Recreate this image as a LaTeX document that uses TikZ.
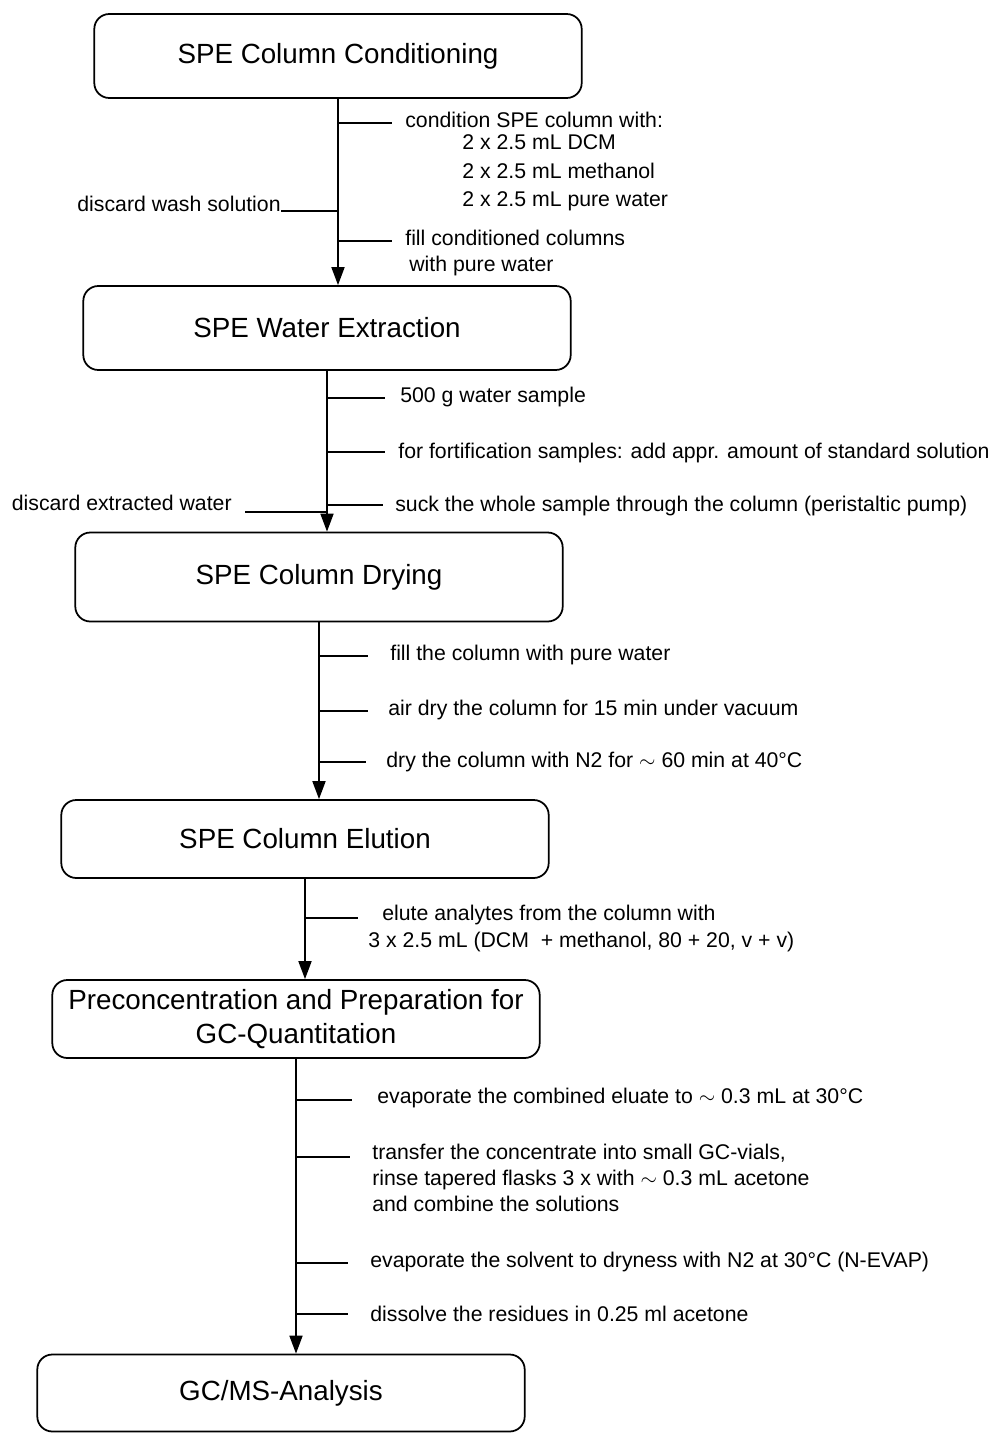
\documentclass[tikz,border=0pt]{standalone}
\usepackage{fontspec}
\setmainfont{Liberation Sans}
\usetikzlibrary{arrows.meta,positioning,calc}

\begin{document}
\begin{tikzpicture}[
  x=0.02cm,
  y=-0.02cm,
  font=\fontsize{12.1}{16}\selectfont,
  stage/.style={draw, line width=1pt, rounded corners=0.3cm, minimum width=9.75cm,
    minimum height=1.66cm, align=center, font=\fontsize{15.8}{19.5}\selectfont},
  flow/.style={line width=1pt, -{Triangle[length=0.36cm,width=0.26cm]}},
  tick/.style={line width=0.9pt},
  note/.style={anchor=west, inner sep=0pt, align=left}
]
  \useasboundingbox (0,0) rectangle (995,1433);

  % process stages
  \node[stage, minimum height=1.68cm] (cond) at (338,56) {SPE Column Conditioning};
  \node[stage, minimum height=1.68cm] (water) at (327,328) {SPE Water Extraction};
  \node[stage, minimum height=1.78cm] (dry) at (319,577) {SPE Column Drying};
  \node[stage, minimum height=1.56cm] (elut) at (305,839) {SPE Column Elution};
  \node[stage, minimum height=1.56cm] (prep) at (296,1019) {Preconcentration and Preparation for\\GC-Quantitation};
  \node[stage, minimum height=1.54cm] (gcms) at (281,1393) {GC/MS-Analysis};

  \draw[flow] (cond.south) -- (cond.south |- water.north);
  \draw[flow] (water.south) -- (water.south |- dry.north);
  \draw[flow] (dry.south) -- (dry.south |- elut.north);
  \draw[flow] (elut.south) -- (elut.south |- prep.north);
  \draw[flow] (prep.south) -- (prep.south |- gcms.north);

  % conditioning
  \node[note] (c1) at (405,120) {condition SPE column with:};
  \node[note, font=\fontsize{12.1}{16.2}\selectfont] (c2) at (462,173)
    {2 x 2.5 mL DCM\\2 x 2.5 mL methanol\\2 x 2.5 mL pure water};
  \node[note, font=\fontsize{12.1}{14.8}\selectfont] (c3) at (405,253)
    {fill conditioned columns\\\hspace{0.08cm}with pure water};
  \node[anchor=base east, inner sep=0pt] (c4) at (281,211) {discard wash solution};
  \coordinate (k1) at (392,123);
  \coordinate (k2) at (392,241);
  \draw[tick] (k1 -| cond.south) -- (k1);
  \draw[tick] (k2 -| cond.south) -- (k2);
  \draw[tick] (c4.base east) -- (c4.base east -| cond.south);

  % extraction
  \node[note] (e1) at (400,397) {500 g water sample};
  \node[note] (e2) at (398,453) {for fortification samples: add appr. amount of standard solution};
  \node[note] (e3) at (395,506) {suck the whole sample through the column (peristaltic pump)};
  \node[anchor=base east, inner sep=0pt] (e4) at (232,510) {discard extracted water};
  \coordinate (k3) at (385,398);
  \coordinate (k4) at (385,452);
  \coordinate (k5) at (383,505);
  \coordinate (k6) at (245,512);
  \draw[tick] (k3 -| water.south) -- (k3);
  \draw[tick] (k4 -| water.south) -- (k4);
  \draw[tick] (k5 -| water.south) -- (k5);
  \draw[tick] (k6) -- (k6 -| water.south);

  % drying
  \node[note] (d1) at (390,655) {fill the column with pure water};
  \node[note] (d2) at (388,710) {air dry the column for 15 min under vacuum};
  \node[note] (d3) at (386,762) {dry the column with N2 for $\sim$ 60 min at 40°C};
  \coordinate (k7) at (368,656);
  \coordinate (k8) at (368,711);
  \coordinate (k9) at (366,762);
  \draw[tick] (k7 -| dry.south) -- (k7);
  \draw[tick] (k8 -| dry.south) -- (k8);
  \draw[tick] (k9 -| dry.south) -- (k9);

  % elution
  \node[note] (u1) at (382,915) {elute analytes from the column with};
  \node[note] (u2) at (368,942) {3 x 2.5 mL (DCM \ + methanol, 80 + 20, v + v)};
  \coordinate (k10) at (358,918);
  \draw[tick] (k10 -| elut.south) -- (k10);

  % preconcentration
  \node[note] (p1) at (377,1098) {evaporate the combined eluate to $\sim$ 0.3 mL at 30°C};
  \node[note, font=\fontsize{12.1}{14.6}\selectfont] (p2) at (372,1178)
    {transfer the concentrate into small GC-vials,\\rinse tapered flasks 3 x with $\sim$ 0.3 mL acetone\\and combine the solutions};
  \node[note] (p3) at (370,1262) {evaporate the solvent to dryness with N2 at 30°C (N-EVAP)};
  \node[note] (p4) at (370,1314) {dissolve the residues in 0.25 ml acetone};
  \coordinate (k11) at (352,1100);
  \coordinate (k12) at (350,1157);
  \coordinate (k13) at (348,1263);
  \coordinate (k14) at (348,1314);
  \draw[tick] (k11 -| prep.south) -- (k11);
  \draw[tick] (k12 -| prep.south) -- (k12);
  \draw[tick] (k13 -| prep.south) -- (k13);
  \draw[tick] (k14 -| prep.south) -- (k14);
\end{tikzpicture}
\end{document}
